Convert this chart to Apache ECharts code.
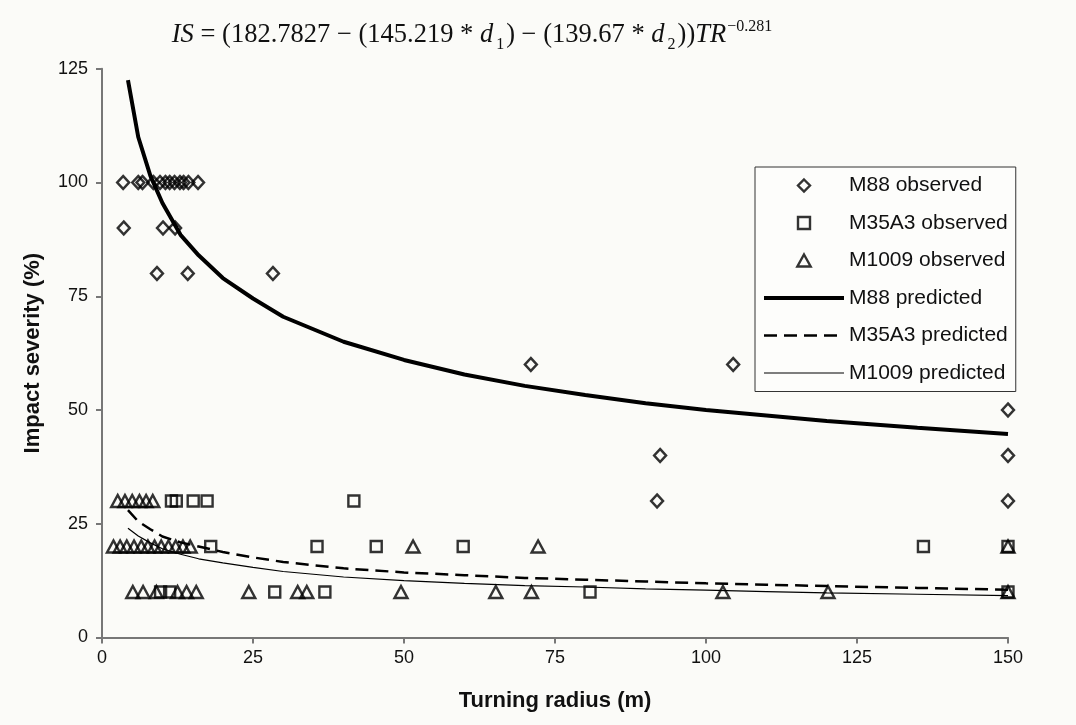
<!DOCTYPE html>
<html>
<head>
<meta charset="utf-8">
<script src="https://cdn.jsdelivr.net/npm/echarts@6/dist/echarts.min.js"></script>
<style>
  html, body { margin: 0; padding: 0; background: #fbfbf8; }
  #chart { width: 1076px; height: 725px; }
</style>
</head>
<body>
<div id="chart"></div>
<script>
// observed points
const m88ObsX = [3.5, 6.0, 6.7, 8.5, 9.6, 10.5, 11.2, 12.0, 12.9, 13.5, 14.3, 15.9,
  3.6, 10.1, 12.1, 9.1, 14.2, 28.3, 71, 104.5, 92.4, 91.9, 150, 150, 150]
const m88ObsY = [100, 100, 100, 100, 100, 100, 100, 100, 100, 100, 100, 100,
  90, 90, 90, 80, 80, 80, 60, 60, 40, 30, 50, 40, 30]

const m35ObsX = [11.5, 12.3, 15.1, 17.4, 41.7, 18.0, 35.6, 45.4, 59.8, 136, 150,
  9.7, 11.2, 28.6, 36.9, 80.8, 150]
const m35ObsY = [30, 30, 30, 30, 30, 20, 20, 20, 20, 20, 20,
  10, 10, 10, 10, 10, 10]

const m1009ObsX = [2.6, 3.8, 5.0, 6.2, 7.3, 8.4,
  1.9, 3.0, 4.1, 5.3, 6.5, 7.6, 8.7, 9.8, 11.0, 12.2, 13.4, 14.6, 51.5, 72.2, 150,
  5.1, 6.8, 9.0, 12.5, 14.0, 15.6, 24.3, 32.4, 33.9, 49.5, 65.2, 71.1, 102.8, 120.2, 150]
const m1009ObsY = [30, 30, 30, 30, 30, 30,
  20, 20, 20, 20, 20, 20, 20, 20, 20, 20, 20, 20, 20, 20, 20,
  10, 10, 10, 10, 10, 10, 10, 10, 10, 10, 10, 10, 10, 10, 10]

// predicted curves
const predX = [4.3, 6, 8, 10, 13, 16, 20, 25, 30, 40, 50, 60, 70, 80, 90, 100, 110, 120, 135, 150]
const m88Pred = [122.5, 110, 101.5, 95.5, 88.5, 84, 79, 74.5, 70.5, 65, 61, 57.8, 55.3, 53.3, 51.5, 50, 48.8, 47.6, 46.1, 44.7]
const m35Pred = [28, 25.5, 23.8, 22.2, 20.9, 20, 18.8, 17.6, 16.6, 15.2, 14.3, 13.7, 13.1, 12.7, 12.3, 11.9, 11.6, 11.3, 10.9, 10.5]
const m1009Pred = [24, 22.3, 20.8, 19.5, 18.3, 17.3, 16.4, 15.4, 14.5, 13.3, 12.5, 11.9, 11.4, 11.1, 10.7, 10.4, 10.1, 9.8, 9.5, 9.2]

const xTicks = [0, 25, 50, 75, 100, 125, 150]
const yTicks = [0, 25, 50, 75, 100, 125]

const pairs = (xs, ys) => xs.map((x, i) => [x, ys[i]])

const chart = echarts.init(document.getElementById('chart'))

const hollow = { color: 'transparent', borderColor: '#000', borderWidth: 2.4 }
const noDot = { color: 'transparent', borderWidth: 0 }

// legend icons as paths so they keep their shape inside the wide legend slot
const diamondIcon = 'path://M5,0L10,5L5,10L0,5Z'
const squareIcon = 'path://M0,0L10,0L10,10L0,10Z'
const triangleIcon = 'path://M5,0L10,9L0,9Z'

const option = {
  backgroundColor: '#fbfbf8',
  animation: false,
  title: {
    left: 467,
    top: 10,
    textAlign: 'center',
    text: '{i|IS} = (182.7827 − (145.219 * {i|d}{sub|1}) − (139.67 * {i|d}{sub|2})){i|TR}{sup|−0.281}',
    textStyle: {
      fontFamily: 'Liberation Serif',
      fontSize: 26.5,
      fontWeight: 'normal',
      color: '#111',
      lineHeight: 40,
      rich: {
        i: { fontFamily: 'Liberation Serif', fontSize: 26.5, fontStyle: 'italic', color: '#111', lineHeight: 40 },
        sub: { fontFamily: 'Liberation Serif', fontSize: 16, color: '#111', lineHeight: 16, verticalAlign: 'bottom', padding: [0, 2, 2, 3] },
        sup: { fontFamily: 'Liberation Serif', fontSize: 16, color: '#111', lineHeight: 16, verticalAlign: 'top', padding: [4, 0, 0, 1] }
      }
    }
  },
  grid: { left: 102, right: 68, top: 68.75, bottom: 87.5 },
  legend: {
    orient: 'vertical',
    left: 755,
    top: 167,
    padding: [8, 8, 8, 7],
    itemWidth: 80,
    itemHeight: 12,
    itemGap: 16.5,
    backgroundColor: '#fdfdfb',
    borderColor: '#333',
    borderWidth: 1,
    borderRadius: 0,
    textStyle: { fontFamily: 'Liberation Sans', fontSize: 21, color: '#111', lineHeight: 21 },
    data: [
      { name: 'M88 observed', icon: diamondIcon, itemStyle: hollow },
      { name: 'M35A3 observed', icon: squareIcon, itemStyle: hollow },
      { name: 'M1009 observed', icon: triangleIcon, itemStyle: hollow },
      { name: 'M88 predicted', itemStyle: noDot, lineStyle: { color: '#000', width: 4 } },
      { name: 'M35A3 predicted', itemStyle: noDot, lineStyle: { color: '#000', width: 2.5, type: [13, 7] } },
      { name: 'M1009 predicted', itemStyle: noDot, lineStyle: { color: '#000', width: 1.2 } }
    ]
  },
  xAxis: {
    type: 'value',
    min: xTicks[0],
    max: xTicks[xTicks.length - 1],
    interval: 25,
    name: 'Turning radius (m)',
    nameLocation: 'middle',
    nameGap: 52,
    nameTextStyle: { fontFamily: 'Liberation Sans', fontSize: 22, fontWeight: 'bold', color: '#111' },
    axisLine: { lineStyle: { color: '#777', width: 2 } },
    axisTick: { inside: false, length: 6, lineStyle: { color: '#777', width: 2 } },
    axisLabel: { fontFamily: 'Liberation Sans', fontSize: 18, color: '#111', margin: 12 },
    splitLine: { show: false }
  },
  yAxis: {
    type: 'value',
    min: yTicks[0],
    max: yTicks[yTicks.length - 1],
    interval: 25,
    name: 'Impact severity (%)',
    nameLocation: 'middle',
    nameGap: 58,
    nameTextStyle: { fontFamily: 'Liberation Sans', fontSize: 22, fontWeight: 'bold', color: '#111' },
    axisLine: { show: true, lineStyle: { color: '#777', width: 2 } },
    axisTick: { show: true, inside: false, length: 6, lineStyle: { color: '#777', width: 2 } },
    axisLabel: { fontFamily: 'Liberation Sans', fontSize: 18, color: '#111', margin: 14 },
    splitLine: { show: false }
  },
  series: [
    {
      name: 'M88 observed', type: 'scatter', symbol: 'diamond', symbolSize: [12, 13],
      itemStyle: hollow, data: pairs(m88ObsX, m88ObsY)
    },
    {
      name: 'M35A3 observed', type: 'scatter', symbol: 'rect', symbolSize: 11,
      itemStyle: hollow, data: pairs(m35ObsX, m35ObsY)
    },
    {
      name: 'M1009 observed', type: 'scatter', symbol: 'triangle', symbolSize: [13, 12],
      itemStyle: hollow, data: pairs(m1009ObsX, m1009ObsY)
    },
    {
      name: 'M88 predicted', type: 'line', showSymbol: false, symbol: 'circle',
      itemStyle: noDot, lineStyle: { color: '#000', width: 4 },
      data: pairs(predX, m88Pred)
    },
    {
      name: 'M35A3 predicted', type: 'line', showSymbol: false, symbol: 'circle',
      itemStyle: noDot, lineStyle: { color: '#000', width: 2.5, type: [13, 7] },
      data: pairs(predX, m35Pred)
    },
    {
      name: 'M1009 predicted', type: 'line', showSymbol: false, symbol: 'circle',
      itemStyle: noDot, lineStyle: { color: '#000', width: 1.2 },
      data: pairs(predX, m1009Pred)
    }
  ]
}

chart.setOption(option)
</script>
</body>
</html>
